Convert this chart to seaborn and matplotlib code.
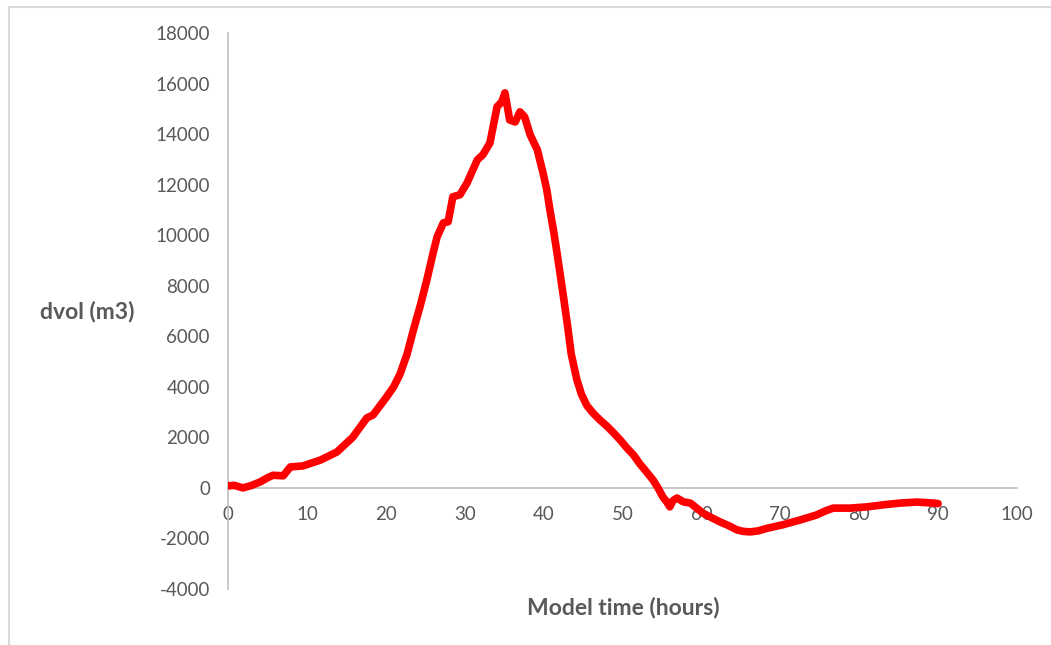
import matplotlib
matplotlib.use("Agg")
import matplotlib.pyplot as plt
import seaborn as sns
import pandas as pd
from matplotlib.lines import Line2D

# ---- data ----
time_hours = [0, 0.8, 1.9, 3.0, 4.1, 5.0, 5.7, 7.0, 7.9, 9.5, 11.7, 13.8, 15.8, 17.6, 18.4,
              20.1, 21.0, 21.8, 22.7, 23.5, 24.4, 25.2, 26.0, 26.5, 27.3, 27.9, 28.5, 29.4,
              30.3, 31.6, 32.3, 33.2, 34.1, 34.7, 35.1, 35.7, 36.4, 37.0, 37.6, 38.3, 39.2,
              39.9, 40.4, 40.8, 41.3, 41.7, 42.1, 42.5, 43.0, 43.5, 44.2, 44.8, 45.5, 46.3,
              47.1, 48.0, 48.8, 49.7, 50.5, 51.4, 52.2, 53.0, 53.9, 54.5, 55.1, 55.6, 56.0,
              56.4, 56.9, 57.7, 58.6, 59.4, 60.2, 61.3, 62.4, 63.5, 64.5, 65.3, 66.2, 67.2,
              68.3, 70.3, 72.5, 74.6, 75.8, 76.7, 78.8, 81.0, 83.0, 85.2, 87.3, 89.4, 90.0]
dvol = [80, 100, 0, 100, 240, 400, 500, 480, 830, 870, 1100, 1420, 2000, 2770, 2890,
        3600, 4000, 4500, 5300, 6250, 7250, 8230, 9300, 9930, 10490, 10530, 11520, 11600,
        12070, 12980, 13180, 13650, 15080, 15280, 15630, 14560, 14480, 14880, 14680, 13970, 13380,
        12500, 11800, 11000, 10100, 9300, 8450, 7600, 6500, 5300, 4300, 3700, 3250, 2950,
        2700, 2450, 2200, 1900, 1600, 1300, 950, 650, 300, 0, -350, -550, -750,
        -500, -400, -550, -600, -800, -1000, -1180, -1350, -1500, -1660, -1720, -1740, -1700,
        -1600, -1460, -1270, -1070, -900, -800, -800, -750, -670, -600, -560, -600, -620]
x_ticks = [0, 10, 20, 30, 40, 50, 60, 70, 80, 90, 100]
y_ticks = [-4000, -2000, 0, 2000, 4000, 6000, 8000, 10000, 12000, 14000, 16000, 18000]
x_label = "Model time (hours)"
y_label = "dvol (m3)"

df = pd.DataFrame({"t": time_hours, "dvol": dvol})

sns.set_theme(style="white")
plt.rcParams["font.family"] = ["Lato", "DejaVu Sans"]

W, H = 1051, 645
fig = plt.figure(figsize=(W / 100, H / 100), dpi=100)
ax = fig.add_axes([228 / W, 1 - 589 / H, (1017 - 228) / W, (589 - 33) / H])

sns.lineplot(data=df, x="t", y="dvol", ax=ax, color="#ff0000", linewidth=5.5,
             sort=False, zorder=3, solid_joinstyle="round", solid_capstyle="round")

ax.set_xlim(0, 100)
ax.set_ylim(-4000, 18000)
ax.set_xticks(x_ticks)
ax.set_yticks(y_ticks)
ax.set_xticklabels([str(v) for v in x_ticks])
ax.set_yticklabels([str(v) for v in y_ticks])

grey = "#595959"
spine_c = "#bfbfbf"
for s in ["top", "right"]:
    ax.spines[s].set_visible(False)
ax.spines["bottom"].set_position(("data", 0))
ax.spines["bottom"].set_color(spine_c)
ax.spines["left"].set_color(spine_c)
ax.spines["bottom"].set_linewidth(1.2)
ax.spines["left"].set_linewidth(1.2)

ax.tick_params(axis="both", direction="out", colors=spine_c, length=5, width=1.2,
               labelcolor=grey, labelsize=13.5)
ax.tick_params(axis="x", pad=8)
ax.tick_params(axis="y", pad=8)
ax.set_xlabel("")
ax.set_ylabel("")

fig.text(623 / W, 1 - 607 / H, x_label, ha="center", va="center",
         fontsize=16.5, fontweight="bold", color=grey)
fig.text(40 / W, 1 - 312 / H, y_label, ha="left", va="center",
         fontsize=16.5, fontweight="bold", color=grey)

# outer chart-area border (top and left edges visible)
fig.add_artist(Line2D([9 / W, 1.0], [1 - 7 / H, 1 - 7 / H], transform=fig.transFigure,
                      color="#d9d9d9", linewidth=1.5))
fig.add_artist(Line2D([9 / W, 9 / W], [0.0, 1 - 7 / H], transform=fig.transFigure,
                      color="#d9d9d9", linewidth=1.5))

fig.savefig("out.png", dpi=100, facecolor="white")
